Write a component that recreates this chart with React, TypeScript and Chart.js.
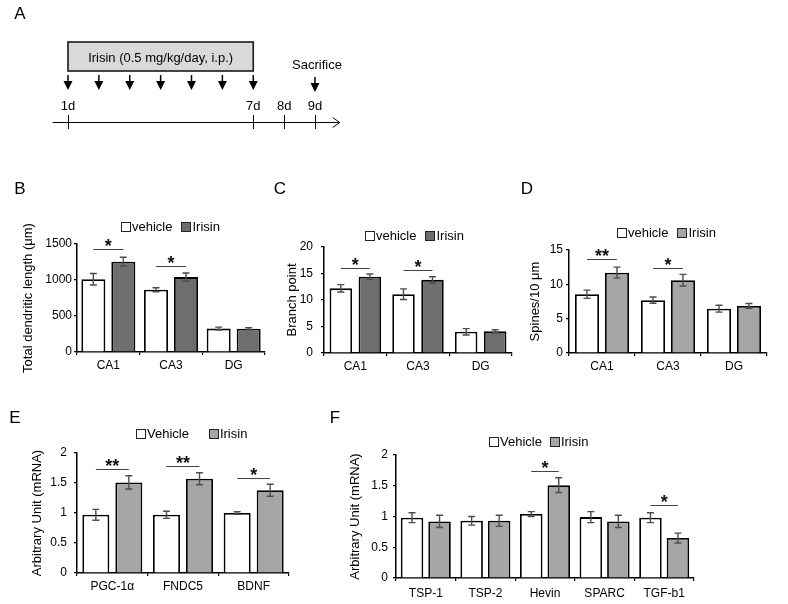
import React, { useEffect, useRef } from 'react';
import { Chart, registerables } from 'chart.js';
Chart.register(...registerables);

const FONT = 'Arial, "Liberation Sans", Helvetica, sans-serif';

// ---------- Panel A (timeline) ----------
const injectionDays = [1, 2, 3, 4, 5, 6, 7];
const sacrificeDay = 9;
const markedDays = [1, 7, 8, 9];
const markedDayLabels = ['1d', '7d', '8d', '9d'];
const treatmentLabel = 'Irisin (0.5 mg/kg/day, i.p.)';
const sacrificeLabel = 'Sacrifice';

// ---------- Panels B, C, D ----------
const regionLabels = ['CA1', 'CA3', 'DG'];
const lengthVehicle = [1010, 865, 325];
const lengthVehicleSem = [80, 28, 20];
const lengthIrisin = [1255, 1040, 322];
const lengthIrisinSem = [62, 58, 15];
const lengthSig = [{ cat: 0, y: 1430, label: '*' }, { cat: 1, y: 1200, label: '*' }];

const branchVehicle = [12.2, 11.1, 4.0];
const branchVehicleSem = [0.7, 1.0, 0.6];
const branchIrisin = [14.4, 13.8, 4.1];
const branchIrisinSem = [0.5, 0.6, 0.3];
const branchSig = [{ cat: 0, y: 16.1, label: '*' }, { cat: 1, y: 15.65, label: '*' }];

const spineVehicle = [8.55, 7.7, 6.45];
const spineVehicleSem = [0.6, 0.45, 0.5];
const spineIrisin = [11.7, 10.6, 6.85];
const spineIrisinSem = [0.8, 0.85, 0.35];
const spineSig = [{ cat: 0, y: 13.7, label: '**' }, { cat: 1, y: 12.4, label: '*' }];

// ---------- Panel E ----------
const geneLabelsE = ['PGC-1α', 'FNDC5', 'BDNF'];
const mrnaVehicleE = [0.97, 0.97, 1.0];
const mrnaVehicleSemE = [0.09, 0.06, 0.02];
const mrnaIrisinE = [1.51, 1.57, 1.38];
const mrnaIrisinSemE = [0.11, 0.1, 0.1];
const sigE = [{ cat: 0, y: 1.73, label: '**' }, { cat: 1, y: 1.78, label: '**' }, { cat: 2, y: 1.59, label: '*' }];

// ---------- Panel F ----------
const geneLabelsF = ['TSP-1', 'TSP-2', 'Hevin', 'SPARC', 'TGF-b1'];
const mrnaVehicleF = [0.98, 0.93, 1.04, 0.99, 0.98];
const mrnaVehicleSemF = [0.08, 0.07, 0.04, 0.09, 0.08];
const mrnaIrisinF = [0.92, 0.93, 1.51, 0.92, 0.65];
const mrnaIrisinSemF = [0.1, 0.09, 0.12, 0.1, 0.08];
const sigF = [{ cat: 2, y: 1.74, label: '*' }, { cat: 4, y: 1.18, label: '*' }];

type Sig = { cat: number; y: number; label: string };

interface PanelProps {
  letter: string;
  letterPos: [number, number];
  rect: [number, number, number, number];
  area: [number, number, number, number];
  cats: string[];
  vehicle: number[];
  vehicleErr: number[];
  irisin: number[];
  irisinErr: number[];
  irisinColor: string;
  vehicleName: string;
  irisinName: string;
  yMax: number;
  yStep: number;
  yTitle: string;
  titleX: number;
  tickGap: number;
  xTickPad: number;
  legendPos: [number, number];
  legendGap: number;
  sig: Sig[];
  catPct: number;
  barPct: number;
}

function drawLetter(ctx: CanvasRenderingContext2D, letter: string, cx: number, cy: number) {
  const fs = 17;
  ctx.font = `${fs}px ${FONT}`;
  ctx.fillStyle = '#000';
  ctx.textAlign = 'center';
  ctx.textBaseline = 'alphabetic';
  ctx.fillText(letter, cx, cy + 0.358 * fs);
}

function BarPanel(p: PanelProps) {
  const ref = useRef<HTMLCanvasElement>(null);
  useEffect(() => {
    const [rl, rt, rw, rh] = p.rect;
    const [al, at, ar, ab] = p.area;
    const overlay = {
      id: 'overlay' + p.letter,
      afterDatasetsDraw(chart: any) {
        const ctx: CanvasRenderingContext2D = chart.ctx;
        const ys = chart.scales.y;
        ctx.save();
        // error bars
        const sets: [number[], number[]][] = [[p.vehicle, p.vehicleErr], [p.irisin, p.irisinErr]];
        sets.forEach(([vals, errs], di) => {
          const meta = chart.getDatasetMeta(di);
          vals.forEach((v, j) => {
            const x = meta.data[j].x;
            const t = ys.getPixelForValue(v + errs[j]);
            const b = ys.getPixelForValue(v - errs[j]);
            ctx.strokeStyle = '#4d4d4d';
            ctx.lineWidth = 1.4;
            ctx.beginPath();
            ctx.moveTo(x, t); ctx.lineTo(x, b);
            ctx.moveTo(x - 3.5, t); ctx.lineTo(x + 3.5, t);
            ctx.moveTo(x - 3.5, b); ctx.lineTo(x + 3.5, b);
            ctx.stroke();
          });
        });
        // significance
        p.sig.forEach((s) => {
          const x1 = chart.getDatasetMeta(0).data[s.cat].x;
          const x2 = chart.getDatasetMeta(1).data[s.cat].x;
          const y = Math.round(ys.getPixelForValue(s.y)) + 0.5;
          ctx.strokeStyle = '#444';
          ctx.lineWidth = 1;
          ctx.beginPath();
          ctx.moveTo(x1, y); ctx.lineTo(x2, y);
          ctx.stroke();
          const fs = 18;
          ctx.font = `bold ${fs}px ${FONT}`;
          ctx.fillStyle = '#111';
          ctx.textAlign = 'center';
          ctx.textBaseline = 'alphabetic';
          ctx.fillText(s.label, (x1 + x2) / 2, y - 7.5 + 0.57 * fs);
        });
        // legend
        const lfs = 13;
        ctx.font = `${lfs}px ${FONT}`;
        ctx.textAlign = 'left';
        ctx.textBaseline = 'alphabetic';
        let lx = p.legendPos[0] - rl;
        const lyc = p.legendPos[1] - rt;
        const items: [string, string][] = [[p.vehicleName, '#fff'], [p.irisinName, p.irisinColor]];
        items.forEach(([name, col]) => {
          const bs = 9;
          const by = Math.round(lyc - bs / 2 + 0.5) + 0.5;
          ctx.fillStyle = col;
          ctx.fillRect(Math.round(lx) + 0.5, by, bs, bs);
          ctx.strokeStyle = '#222';
          ctx.lineWidth = 1;
          ctx.strokeRect(Math.round(lx) + 0.5, by, bs, bs);
          ctx.fillStyle = '#000';
          ctx.fillText(name, lx + bs + 2, lyc + 0.36 * lfs);
          lx += bs + 2 + ctx.measureText(name).width + p.legendGap;
        });
        drawLetter(ctx, p.letter, p.letterPos[0] - rl, p.letterPos[1] - rt);
        ctx.restore();
      },
    };
    const tickFont = { family: FONT, size: 12 };
    const chart = new Chart(ref.current as HTMLCanvasElement, {
      type: 'bar',
      data: {
        labels: p.cats,
        datasets: [
          {
            label: p.vehicleName, data: p.vehicle, backgroundColor: '#ffffff', borderColor: '#000',
            borderWidth: 1.8, categoryPercentage: p.catPct, barPercentage: p.barPct,
          },
          {
            label: p.irisinName, data: p.irisin, backgroundColor: p.irisinColor, borderColor: '#000',
            borderWidth: 1.8, categoryPercentage: p.catPct, barPercentage: p.barPct,
          },
        ],
      },
      options: {
        animation: false,
        responsive: false,
        maintainAspectRatio: false,
        devicePixelRatio: 1,
        events: [],
        layout: { padding: { left: 0, top: at - rt, right: rl + rw - ar, bottom: 0 } },
        plugins: { legend: { display: false }, tooltip: { enabled: false }, title: { display: false } },
        scales: {
          x: {
            type: 'category',
            offset: true,
            grid: { offset: true, drawOnChartArea: false, drawTicks: true, tickLength: 3, color: '#000', lineWidth: 1.2 },
            border: { display: true, color: '#000', width: 1.5 },
            ticks: { color: '#000', font: tickFont, padding: p.xTickPad, maxRotation: 0, autoSkip: false },
            afterFit: (s: any) => { s.height = rt + rh - ab; },
          },
          y: {
            min: 0,
            max: p.yMax,
            ticks: { stepSize: p.yStep, color: '#000', font: tickFont, padding: p.tickGap, callback: (v: any) => String(v) },
            grid: { drawOnChartArea: false, drawTicks: true, tickLength: 3, color: '#000', lineWidth: 1.2 },
            border: { display: true, color: '#000', width: 1.5 },
            title: {
              display: true, text: p.yTitle, color: '#000', font: { family: FONT, size: 13 },
              padding: { top: p.titleX - rl - 7.8, bottom: 0 },
            },
            afterFit: (s: any) => { s.width = al - rl; },
          },
        },
      } as any,
      plugins: [overlay],
    });
    return () => chart.destroy();
  }, []);
  return (
    <canvas
      ref={ref}
      width={p.rect[2]}
      height={p.rect[3]}
      style={{ position: 'absolute', left: p.rect[0], top: p.rect[1], width: p.rect[2], height: p.rect[3], display: 'block' }}
    />
  );
}

function TimelinePanel() {
  const ref = useRef<HTMLCanvasElement>(null);
  useEffect(() => {
    const overlay = {
      id: 'timeline',
      afterDatasetsDraw(chart: any) {
        const ctx: CanvasRenderingContext2D = chart.ctx;
        const xs = chart.scales.x;
        const ys = chart.scales.y;
        const X = (d: number) => xs.getPixelForValue(d);
        const Y = (v: number) => ys.getPixelForValue(v);
        ctx.save();
        drawLetter(ctx, 'A', 20, 13);
        // treatment box
        const bx1 = X(injectionDays[0]);
        const bx2 = X(injectionDays[injectionDays.length - 1]);
        ctx.fillStyle = '#d9d9d9';
        ctx.fillRect(bx1, Y(42), bx2 - bx1, Y(71) - Y(42));
        ctx.strokeStyle = '#1a1a1a';
        ctx.lineWidth = 1.6;
        ctx.strokeRect(bx1, Y(42), bx2 - bx1, Y(71) - Y(42));
        ctx.fillStyle = '#000';
        ctx.font = `13px ${FONT}`;
        ctx.textAlign = 'center';
        ctx.textBaseline = 'alphabetic';
        ctx.fillText(treatmentLabel, (bx1 + bx2) / 2, Y(57) + 4.7);
        // arrows
        const arrow = (x: number, top: number) => {
          ctx.strokeStyle = '#000';
          ctx.lineWidth = 1.5;
          ctx.beginPath();
          ctx.moveTo(x, Y(top)); ctx.lineTo(x, Y(top + 8));
          ctx.stroke();
          ctx.fillStyle = '#000';
          ctx.beginPath();
          ctx.moveTo(x - 4.5, Y(top + 6));
          ctx.lineTo(x + 4.5, Y(top + 6));
          ctx.lineTo(x, Y(top + 15));
          ctx.closePath();
          ctx.fill();
        };
        injectionDays.forEach((d) => arrow(X(d), 75));
        arrow(X(sacrificeDay), 77);
        ctx.fillStyle = '#000';
        ctx.fillText(sacrificeLabel, X(sacrificeDay) + 2, Y(64) + 4.7);
        markedDays.forEach((d, i) => ctx.fillText(markedDayLabels[i], X(d), Y(105) + 4.7));
        // axis line
        ctx.strokeStyle = '#000';
        ctx.lineWidth = 1;
        const ly = Math.round(Y(122)) + 0.5;
        ctx.beginPath();
        ctx.moveTo(X(0.5), ly); ctx.lineTo(X(9.8), ly);
        ctx.stroke();
        ctx.beginPath();
        ctx.moveTo(X(9.8) - 7, ly - 5); ctx.lineTo(X(9.8), ly); ctx.lineTo(X(9.8) - 7, ly + 5);
        ctx.stroke();
        markedDays.forEach((d) => {
          const x = Math.round(X(d)) + 0.5;
          ctx.beginPath();
          ctx.moveTo(x, Y(115)); ctx.lineTo(x, Y(129));
          ctx.stroke();
        });
        ctx.restore();
      },
    };
    const chart = new Chart(ref.current as HTMLCanvasElement, {
      type: 'scatter',
      data: { datasets: [{ data: [] }] },
      options: {
        animation: false,
        responsive: false,
        maintainAspectRatio: false,
        devicePixelRatio: 1,
        events: [],
        layout: { padding: { left: 37.1, right: 360 - 345.9, top: 0, bottom: 0 } },
        plugins: { legend: { display: false }, tooltip: { enabled: false } },
        scales: {
          x: { type: 'linear', min: 0, max: 10, display: false },
          y: { type: 'linear', min: 0, max: 150, reverse: true, display: false },
        },
      } as any,
      plugins: [overlay],
    });
    return () => chart.destroy();
  }, []);
  return (
    <canvas ref={ref} width={360} height={150}
      style={{ position: 'absolute', left: 0, top: 0, width: 360, height: 150, display: 'block' }} />
  );
}

export default function App() {
  return (
    <div style={{ position: 'fixed', left: 0, top: 0, width: 788, height: 604, background: '#fff', overflow: 'hidden' }}>
      <TimelinePanel />
      <BarPanel
        letter="B" letterPos={[20, 188]} rect={[0, 170, 270, 210]} area={[77, 244, 265, 352]}
        cats={regionLabels} vehicle={lengthVehicle} vehicleErr={lengthVehicleSem}
        irisin={lengthIrisin} irisinErr={lengthIrisinSem} irisinColor="#6e6e6e"
        vehicleName="vehicle" irisinName="Irisin" yMax={1500} yStep={500}
        yTitle="Total dendritic length (μm)" titleX={28} tickGap={2} xTickPad={3}
        legendPos={[121, 226]} legendGap={9} sig={lengthSig} catPct={0.957} barPct={0.8}
      />
      <BarPanel
        letter="C" letterPos={[280, 188]} rect={[270, 170, 250, 210]} area={[324, 247, 512, 353]}
        cats={regionLabels} vehicle={branchVehicle} vehicleErr={branchVehicleSem}
        irisin={branchIrisin} irisinErr={branchIrisinSem} irisinColor="#6e6e6e"
        vehicleName="vehicle" irisinName="Irisin" yMax={20} yStep={5}
        yTitle="Branch point" titleX={292} tickGap={8} xTickPad={3}
        legendPos={[365, 235]} legendGap={9} sig={branchSig} catPct={0.925} barPct={0.776}
      />
      <BarPanel
        letter="D" letterPos={[527, 188]} rect={[520, 170, 268, 210]} area={[569, 250, 767, 353]}
        cats={regionLabels} vehicle={spineVehicle} vehicleErr={spineVehicleSem}
        irisin={spineIrisin} irisinErr={spineIrisinSem} irisinColor="#a6a6a6"
        vehicleName="vehicle" irisinName="Irisin" yMax={15} yStep={5}
        yTitle="Spines/10 μm" titleX={535} tickGap={3} xTickPad={3}
        legendPos={[617, 232]} legendGap={9} sig={spineSig} catPct={0.909} barPct={0.8}
      />
      <BarPanel
        letter="E" letterPos={[15, 417]} rect={[0, 395, 300, 209]} area={[77, 453, 289, 573]}
        cats={geneLabelsE} vehicle={mrnaVehicleE} vehicleErr={mrnaVehicleSemE}
        irisin={mrnaIrisinE} irisinErr={mrnaIrisinSemE} irisinColor="#a6a6a6"
        vehicleName="Vehicle" irisinName="Irisin" yMax={2} yStep={0.5}
        yTitle="Arbitrary Unit (mRNA)" titleX={37} tickGap={7} xTickPad={3}
        legendPos={[136, 433]} legendGap={20} sig={sigE} catPct={0.934} barPct={0.818}
      />
      <BarPanel
        letter="F" letterPos={[335, 417]} rect={[300, 395, 488, 209]} area={[396, 455, 694, 578]}
        cats={geneLabelsF} vehicle={mrnaVehicleF} vehicleErr={mrnaVehicleSemF}
        irisin={mrnaIrisinF} irisinErr={mrnaIrisinSemF} irisinColor="#a6a6a6"
        vehicleName="Vehicle" irisinName="Irisin" yMax={2} yStep={0.5}
        yTitle="Arbitrary Unit (mRNA)" titleX={355} tickGap={5} xTickPad={5}
        legendPos={[489, 441]} legendGap={8} sig={sigF} catPct={0.923} barPct={0.818}
      />
    </div>
  );
}
